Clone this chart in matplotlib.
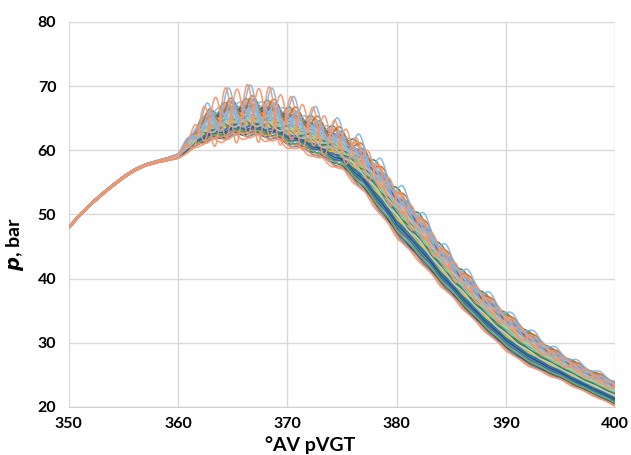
import numpy as np
import matplotlib
matplotlib.use("Agg")
import matplotlib.pyplot as plt

# crank angle grid (deg) and mean pressure trace (bar)
crank_angle = [350, 351, 352, 353, 354, 355, 356, 357, 358, 359,
               360, 361, 362, 363, 364, 365, 366, 367, 368, 369,
               370, 371, 372, 373, 374, 375, 376, 377, 378, 379,
               380, 381, 382, 383, 384, 385, 386, 387, 388, 389,
               390, 391, 392, 393, 394, 395, 396, 397, 398, 399, 400]
mean_p = [48.0, 49.9, 51.6, 53.1, 54.5, 55.8, 56.9, 57.7, 58.2, 58.6,
          59.1, 60.8, 62.7, 63.6, 64.2, 64.6, 64.8, 64.8, 64.6, 64.2,
          63.6, 63.0, 62.4, 61.6, 60.8, 60.0, 58.6, 57.0, 55.0, 52.8,
          50.6, 48.6, 46.8, 44.6, 42.4, 40.4, 38.6, 36.8, 35.1, 33.5,
          32.0, 30.6, 29.4, 28.3, 27.3, 26.4, 25.5, 24.6, 23.8, 23.0, 22.2]
# half width of the cycle-to-cycle band (bar)
band_half = [0.15, 0.15, 0.15, 0.15, 0.15, 0.15, 0.15, 0.15, 0.15, 0.2,
             0.3, 0.9, 1.4, 1.8, 2.0, 2.1, 2.1, 2.2, 2.2, 2.2,
             2.3, 2.3, 2.3, 2.4, 2.4, 2.5, 2.7, 2.9, 3.1, 3.2,
             3.3, 3.3, 3.2, 3.0, 2.8, 2.6, 2.6, 2.6, 2.6, 2.6,
             2.6, 2.5, 2.4, 2.2, 2.0, 1.8, 1.8, 1.7, 1.7, 1.7, 1.7]
# knock oscillation envelope (relative) and period (deg)
knock_env = [0, 0, 0, 0, 0, 0, 0, 0, 0, 0,
             0, 0.25, 0.6, 0.85, 1.0, 1.0, 1.0, 1.0, 1.0, 0.95,
             0.9, 0.85, 0.8, 0.75, 0.7, 0.65, 0.6, 0.55, 0.5, 0.47,
             0.45, 0.42, 0.4, 0.37, 0.35, 0.33, 0.31, 0.28, 0.26, 0.24,
             0.22, 0.21, 0.19, 0.18, 0.16, 0.15, 0.14, 0.13, 0.12, 0.11, 0.1]
knock_period = 2.0

# per cycle: position in band, knock amplitude (bar), knock phase (deg)
cycle_offset = [0.55, -1.10, 0.20, -0.35, 0.80, -0.60, 0.05, 0.95, -0.85, 0.40,
                -0.15, 0.65, -0.45, 0.30, -0.95, 0.10, 0.75, -0.25, 0.50, -0.70,
                0.00, 0.85, -0.50, 0.25, -0.05, 0.60, -0.80, 0.35, -0.30, 0.70,
                -0.65, 0.15, 0.90, -0.40, 0.45, -0.10, 0.55, -1.00, 0.20, -0.55,
                0.80, -0.20, 0.05, -0.75, 0.65, -0.35, 0.30, -0.90, 0.40, -0.15,
                1.00, -0.60, 0.10, -0.45, 0.75, -0.25, 0.50, -1.15, 1.10, 0.45,
                -1.20, 0.60]
cycle_knock = [0.8, 0.3, 0.5, 0.4, 1.0, 0.4, 0.6, 1.2, 0.3, 0.7,
               0.4, 0.9, 0.3, 0.6, 0.3, 0.5, 1.1, 0.4, 0.7, 0.3,
               0.5, 1.2, 0.4, 0.6, 0.5, 0.8, 0.3, 0.7, 0.4, 0.9,
               0.3, 0.5, 1.3, 0.3, 0.7, 0.5, 1.0, 0.3, 0.6, 0.4,
               1.1, 0.5, 0.5, 0.3, 0.8, 0.4, 0.7, 0.3, 0.8, 0.5,
               1.5, 0.3, 0.6, 0.4, 1.2, 0.5, 2.2, 0.4, 3.0, 4.5,
               0.6, 3.6]
cycle_phase = [0.0, 1.3, 0.6, 1.8, 0.3, 1.0, 1.6, 0.2, 0.9, 1.5,
               0.4, 1.1, 1.7, 0.7, 0.1, 1.4, 0.5, 1.9, 0.8, 1.2,
               0.3, 1.0, 1.6, 0.2, 0.9, 1.5, 0.4, 1.1, 1.7, 0.7,
               0.1, 1.4, 0.5, 1.9, 0.8, 1.2, 0.3, 1.0, 1.6, 0.2,
               0.9, 1.5, 0.4, 1.1, 1.7, 0.7, 0.1, 1.4, 0.5, 1.9,
               0.8, 1.2, 0.3, 1.0, 1.6, 0.2, 0.9, 1.5, 0.6, 0.35,
               1.0, 1.4]

x_ticks = [350, 360, 370, 380, 390, 400]
y_ticks = [20, 30, 40, 50, 60, 70, 80]

# office like palette, a bit washed out as in the figure
palette = ['#5B9BD5', '#2F6EAE', '#B8B8B8', '#F2BE2A', '#F4A07A', '#6FAE4A',
           '#9CC6EA', '#3A7D3A', '#D2691E', '#2A4E85', '#A9D18E', '#1F77B4',
           '#8DB4E2', '#C9C9C9']
salmon = '#F4956C'

plt.rcParams['font.family'] = ['Lato', 'DejaVu Sans']

fig = plt.figure(figsize=(6.31, 4.55), dpi=100)
ax = fig.add_axes([0.109, 0.1055, 0.866, 0.8465])

theta = np.arange(350, 400.001, 0.1)
base = np.interp(theta, crank_angle, mean_p)
half = np.interp(theta, crank_angle, band_half)
env = np.interp(theta, crank_angle, knock_env)

n = len(cycle_offset)
for i in range(n):
    col = palette[i % len(palette)]
    if cycle_knock[i] >= 3.5 or cycle_offset[i] <= -1.15:
        col = salmon
    elif cycle_knock[i] >= 2.0:
        col = '#7FB6E6'
    ripple = cycle_knock[i] * env * np.cos(2 * np.pi * (theta - cycle_phase[i]) / knock_period)
    p = base + cycle_offset[i] * half + ripple
    ax.plot(theta, p, color=col, lw=1.1, alpha=0.95)

ax.set_xlim(350, 400)
ax.set_ylim(20, 80)
ax.set_xticks(x_ticks)
ax.set_yticks(y_ticks)
ax.grid(True, color='#d9d9d9', lw=1)
ax.set_axisbelow(True)
for s in ['top', 'right', 'left']:
    ax.spines[s].set_visible(False)
ax.spines['bottom'].set_color('#cfcfcf')
ax.tick_params(length=0, labelsize=11.5)
ax.tick_params(axis='x', pad=7)
ax.tick_params(axis='y', pad=9)
for lab in ax.get_xticklabels() + ax.get_yticklabels():
    lab.set_fontweight('bold')

ax.set_xlabel('°AV pVGT', fontsize=14, fontweight='bold', labelpad=0)
ax.xaxis.set_label_coords(0.441, -0.075)
ax.set_ylabel(r'$\boldsymbol{p}$, bar', fontsize=14, fontweight='bold')
ax.yaxis.set_label_coords(-0.078, 0.422)

fig.savefig('out.png', dpi=100)
